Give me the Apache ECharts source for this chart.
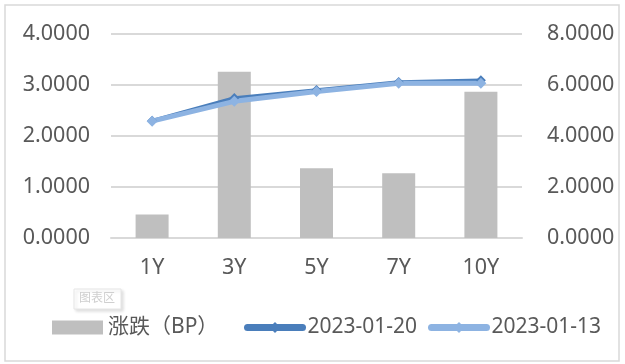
<!DOCTYPE html>
<html><head><meta charset="utf-8">
<script src="https://cdn.jsdelivr.net/npm/echarts@6/dist/echarts.min.js"></script>
<style>html,body{margin:0;padding:0;background:#fff}#c{width:625px;height:364px}</style>
</head><body><div id="c"></div>
<script>
const categories = ['1Y','3Y','5Y','7Y','10Y'];
const changeBP = [0.92, 6.52, 2.74, 2.54, 5.74];
const yield0120 = [2.2999, 2.7453, 2.9000, 3.0573, 3.0921];
const yield0113 = [2.2907, 2.6801, 2.8726, 3.0319, 3.0347];
const leftTicks = [0, 1, 2, 3, 4];
const rightTicks = [0, 2, 4, 6, 8];
const names = ['涨跌（BP）', '2023-01-20', '2023-01-13'];

const FONT = '"Noto Sans", "Noto Sans CJK SC", sans-serif';
const FS = 21.5;
const legendText = {fontSize: 21, color: '#595959', fontFamily: FONT};
const chart = echarts.init(document.getElementById('c'), null, {renderer: 'canvas'});
chart.setOption({
  animation: false,
  backgroundColor: '#fff',
  textStyle: {fontFamily: FONT},
  grid: {left: 111, right: 103, top: 34, bottom: 126},
  legend: [
    {left: 52, top: 317, padding: 0, itemWidth: 51, itemHeight: 14, textStyle: legendText,
     data: [{name: names[0], icon: 'rect'}]},
    {left: 244, top: 317, padding: 0, itemWidth: 55, itemHeight: 14, textStyle: legendText,
     data: [{name: names[1], lineStyle: {width: 7, cap: 'round'}}]},
    {left: 428, top: 317, padding: 0, itemWidth: 55, itemHeight: 14, textStyle: legendText,
     data: [{name: names[2], lineStyle: {width: 7, cap: 'round'}}]}
  ],
  xAxis: {
    type: 'category', data: categories,
    axisLine: {lineStyle: {color: '#d9d9d9', width: 2}},
    axisTick: {show: false},
    axisLabel: {fontSize: FS, color: '#595959', margin: 19, fontFamily: FONT}
  },
  yAxis: [
    {type: 'value', min: leftTicks[0], max: leftTicks[leftTicks.length-1], interval: 1,
     axisLine: {show: false}, axisTick: {show: false},
     splitLine: {lineStyle: {color: '#d9d9d9', width: 2}},
     axisLabel: {fontSize: FS, color: '#595959', margin: 21, fontFamily: FONT,
       formatter: v => v.toFixed(4)}},
    {type: 'value', min: rightTicks[0], max: rightTicks[rightTicks.length-1], interval: 2,
     axisLine: {show: false}, axisTick: {show: false}, splitLine: {show: false},
     axisLabel: {fontSize: FS, color: '#595959', margin: 25, fontFamily: FONT,
       formatter: v => v.toFixed(4)}}
  ],
  series: [
    {name: names[0], type: 'bar', yAxisIndex: 1, data: changeBP, barWidth: 33,
     itemStyle: {color: '#bfbfbf'}},
    {name: names[1], type: 'line', yAxisIndex: 0, data: yield0120,
     symbol: 'diamond', symbolSize: 10,
     lineStyle: {color: '#4a7ebb', width: 3.5}, itemStyle: {color: '#4a7ebb'}},
    {name: names[2], type: 'line', yAxisIndex: 0, data: yield0113,
     symbol: 'diamond', symbolSize: 11,
     lineStyle: {color: '#8db3e2', width: 5}, itemStyle: {color: '#8db3e2'}}
  ],
  graphic: [
    {type: 'rect', shape: {x: 5, y: 5, width: 614, height: 356},
     style: {fill: 'none', stroke: '#d9d9d9', lineWidth: 1.5}, silent: true},
    {type: 'rect', shape: {x: 74, y: 289, width: 47, height: 20},
     style: {fill: '#fff', stroke: '#e6e6e6', lineWidth: 1, shadowBlur: 3, shadowColor: 'rgba(0,0,0,0.12)', shadowOffsetX: 2, shadowOffsetY: 2}},
    {type: 'text', left: 79, top: 291,
     style: {text: '图表区', fontSize: 12, fill: '#cfcfcf', fontFamily: '"Noto Sans CJK SC", sans-serif'}}
  ]
});
</script></body></html>
